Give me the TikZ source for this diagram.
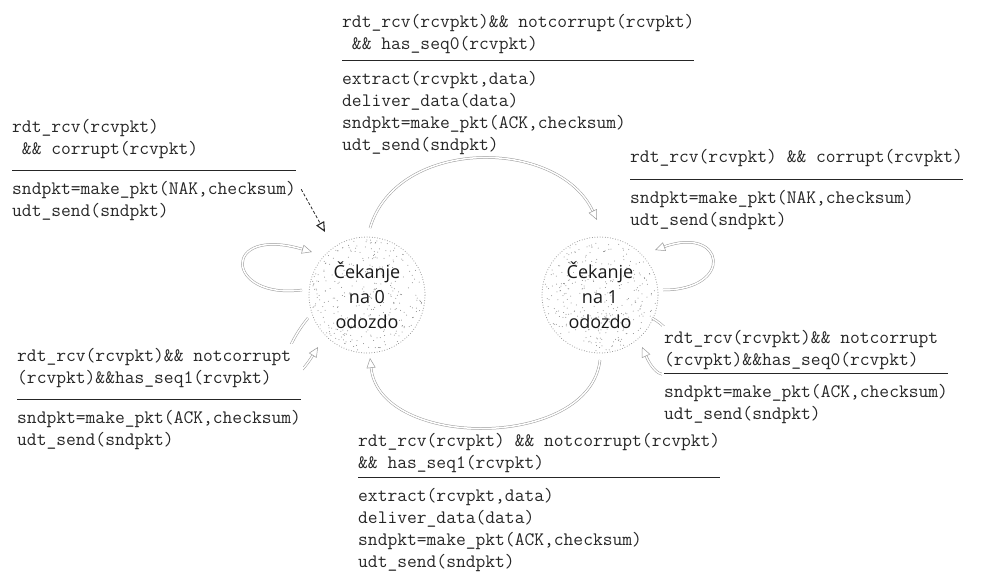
\documentclass[tikz,border=0pt]{standalone}
\usepackage{fontspec}
\usetikzlibrary{arrows.meta,calc}
\newfontfamily\statefont{Open Sans}
\definecolor{ink}{HTML}{262626}
\definecolor{arrowgray}{HTML}{9A9A9A}
\definecolor{stipple}{HTML}{8A8A8A}
\setlength{\arrayrulewidth}{0.8pt}

% guard / action box: conditions, a rule, then the actions
\newcommand\fsmlabel[3][3pt]{%
  \begin{tabular}[t]{@{}l@{}}#2\\[#1]\hline\rule{0pt}{24pt}#3\end{tabular}}

\tikzset{
  state/.style={circle, minimum size=116pt, inner sep=0pt, align=center,
    font=\statefont\fontsize{18}{25}\selectfont, text=black!90,
    draw=stipple, line width=1pt, line cap=round, dash pattern=on 0pt off 2.6pt,
    path picture={
      \foreach \k in {1,...,320}{
        \pgfmathsetmacro\rr{56*sqrt(rnd)}
        \pgfmathsetmacro\aa{360*rnd}
        \fill[stipple] ([shift={(\aa:\rr pt)}]path picture bounding box.center) circle (0.5pt);
      }}},
  lbl/.style={anchor=base west, inner sep=0pt, text=ink,
    font=\ttfamily\fontsize{19}{22}\selectfont},
  lblbox/.style={lbl, fill=white, inner sep=2pt},
  flow/.style={draw=arrowgray, line width=0.5pt, double=white, double distance=1.5pt,
    -{Triangle[open, length=10pt, width=9pt]}},
  nakarrow/.style={draw=ink, line width=0.8pt, dash pattern=on 3pt off 2pt,
    -{Triangle[open, length=10pt, width=9pt, line width=1.1pt]}}
}

\begin{document}
\begin{tikzpicture}[x=1pt, y=1pt]
\useasboundingbox (0,0) rectangle (985,-578);
\pgfmathsetseed{4711}

% states
\node[state] (L) at (367,-295) {Čekanje\\na 0\\odozdo};
\node[state] (R) at (600,-295) {Čekanje\\na 1\\odozdo};

% self-loops that run under the lower labels
\draw[flow] ($(L)+(-59,-23)$) .. controls ($(L)+(-97,-70)$) and ($(L)+(-82,-105)$) .. ($(L)+(-49,-52)$);
\draw[flow] ($(R)+(52,-23)$) .. controls ($(R)+(100,-50)$) and ($(R)+(68,-110)$) .. ($(R)+(42,-52)$);

% labels
\node[lbl] (T) at (342,-28) {\fsmlabel{rdt\_rcv(rcvpkt)\&\& notcorrupt(rcvpkt)\\~\&\& has\_seq0(rcvpkt)}{extract(rcvpkt,data)\\deliver\_data(data)\\sndpkt=make\_pkt(ACK,checksum)\\udt\_send(sndpkt)}};
\node[lbl] (LU) at (12,-132) {\fsmlabel[9pt]{rdt\_rcv(rcvpkt)\\~\&\& corrupt(rcvpkt)}{sndpkt=make\_pkt(NAK,checksum)\\udt\_send(sndpkt)}};
\node[lbl] (RU) at (630,-162) {\fsmlabel[10pt]{rdt\_rcv(rcvpkt) \&\& corrupt(rcvpkt)}{sndpkt=make\_pkt(NAK,checksum)\\udt\_send(sndpkt)}};
\node[lblbox] (LL) at (15,-361) {\fsmlabel[9pt]{rdt\_rcv(rcvpkt)\&\& notcorrupt\\(rcvpkt)\&\&has\_seq1(rcvpkt)}{sndpkt=make\_pkt(ACK,checksum)\\udt\_send(sndpkt)}};
\node[lblbox] (RL) at (662,-343) {\fsmlabel[1pt]{rdt\_rcv(rcvpkt)\&\& notcorrupt\\(rcvpkt)\&\&has\_seq0(rcvpkt)}{sndpkt=make\_pkt(ACK,checksum)\\udt\_send(sndpkt)}};
\node[lbl] (B) at (358,-446) {\fsmlabel[2pt]{rdt\_rcv(rcvpkt) \&\& notcorrupt(rcvpkt)\\\&\& has\_seq1(rcvpkt)}{extract(rcvpkt,data)\\deliver\_data(data)\\sndpkt=make\_pkt(ACK,checksum)\\udt\_send(sndpkt)}};

% transitions between the states
\draw[flow] ($(L)+(3,67)$) .. controls ($(L)+(30,158)$) and ($(R)+(-42,158)$) .. ($(R)+(-3,75)$);
\draw[flow] ($(R)+(0,-65)$) .. controls ($(R)+(-10,-155)$) and ($(L)+(13,-155)$) .. ($(L)+(3,-63)$);

% upper self-loops
\draw[flow] ($(L)+(-65,5)$) .. controls ($(L)+(-142,-5)$) and ($(L)+(-147,70)$) .. ($(L)+(-55,43)$);
\draw[flow] ($(R)+(63,5)$) .. controls ($(R)+(135,5)$) and ($(R)+(125,70)$) .. ($(R)+(55,45)$);

% NAK pointer from the end of the action line
\coordinate (nakfrom) at ($(LU.south east)+(5,34)$);
\draw[nakarrow] (nakfrom) -- ($(L)+(-42,63)$);
\end{tikzpicture}
\end{document}
